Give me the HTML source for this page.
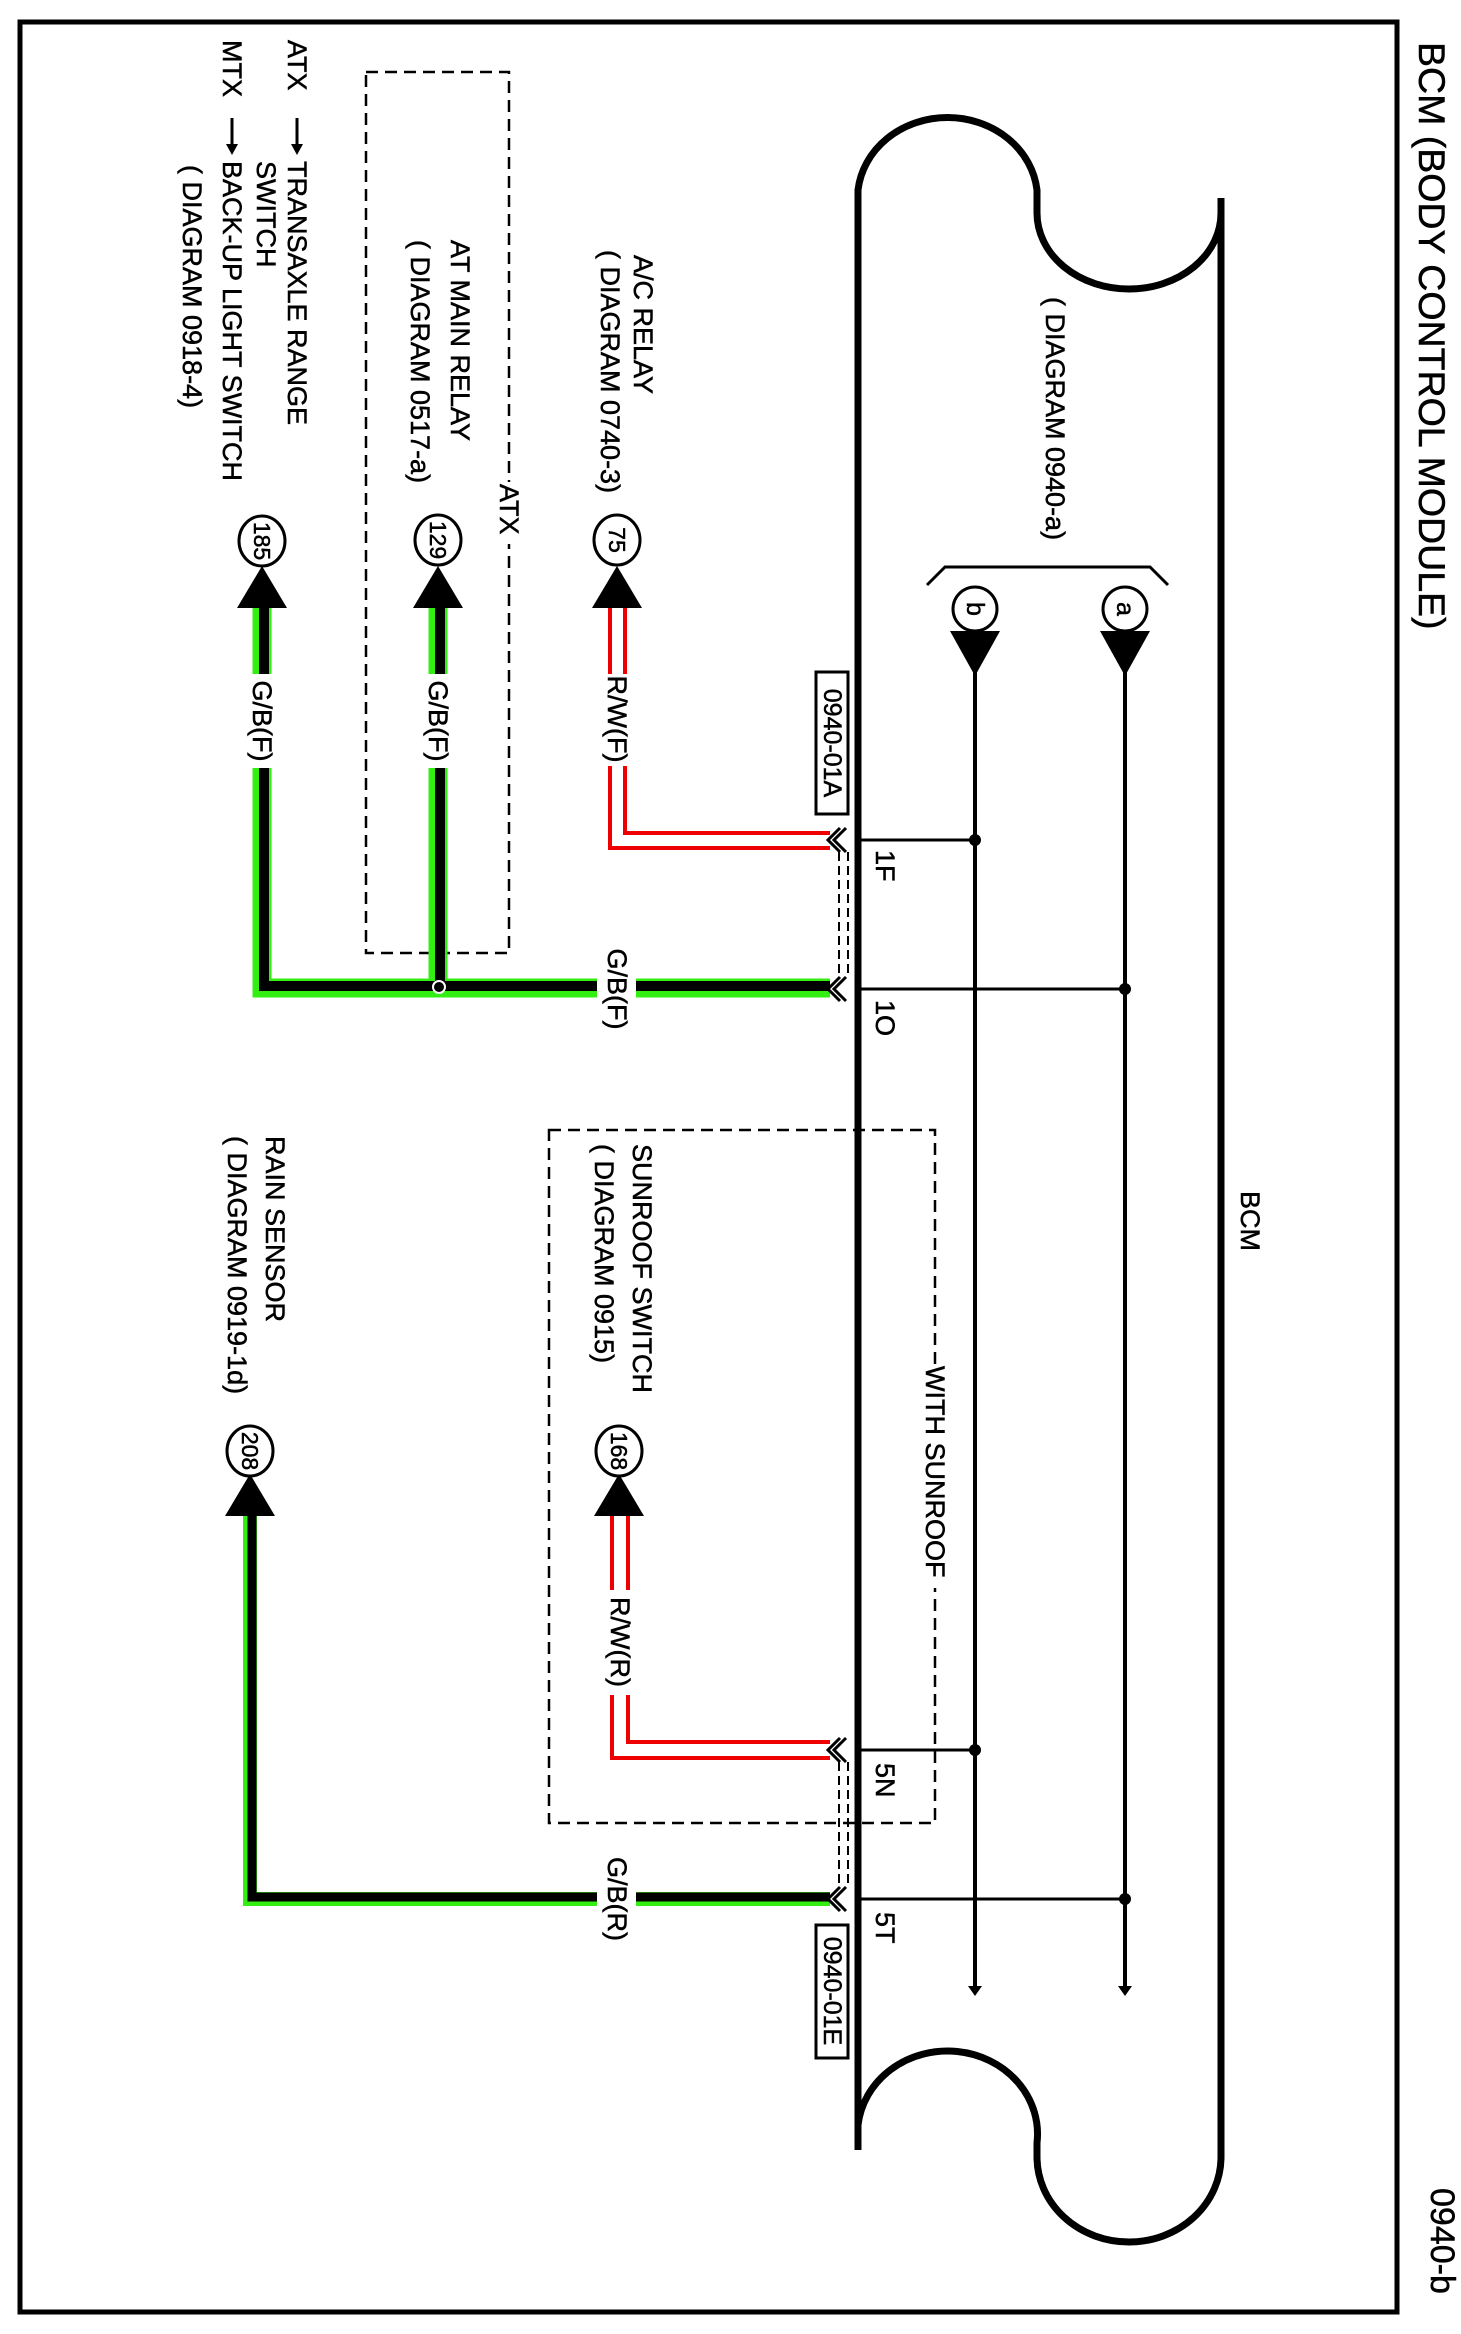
<!DOCTYPE html>
<html><head><meta charset="utf-8"><style>
html,body{margin:0;padding:0;background:#fff;}
svg{display:block;}
text{font-family:"Liberation Sans",Arial,sans-serif;fill:#000;stroke:#000;stroke-width:0.5;}
</style></head><body>
<svg width="1461" height="2334" viewBox="0 0 1461 2334" xmlns="http://www.w3.org/2000/svg">
<rect x="20" y="22" width="1377" height="2290" fill="none" stroke="#000" stroke-width="5"/>

<text x="1432" y="42" transform="rotate(90 1432 42)" font-size="37.5" dominant-baseline="central">BCM (BODY CONTROL MODULE)</text>
<text x="1442" y="2188" transform="rotate(90 1442 2188)" font-size="34" dominant-baseline="central">0940-b</text>

<path d="M858,2150 L858,190 A90,81 0 0 1 1037,190 L1037,213 A92,76 0 0 0 1221,213 L1221,198" fill="none" stroke="#000" stroke-width="7"/>
<path d="M1221,213 L1221,2157 A92,85 0 0 1 1037,2157 L1037,2143 A90,83 0 0 0 858,2125" fill="none" stroke="#000" stroke-width="7"/>
<text x="1250" y="1191" transform="rotate(90 1250 1191)" font-size="27" dominant-baseline="central">BCM</text>
<text x="1055" y="297" transform="rotate(90 1055 297)" font-size="27" dominant-baseline="central">( DIAGRAM  0940-a)</text>

<polyline points="927,585 945,567 1150,567 1168,585" fill="none" stroke="#000" stroke-width="3"/>
<circle cx="975" cy="609" r="22" fill="#fff" stroke="#000" stroke-width="3"/>
<text x="975" y="609" transform="rotate(90 975 609)" font-size="25" text-anchor="middle" dominant-baseline="central">b</text>
<circle cx="1125" cy="609" r="22" fill="#fff" stroke="#000" stroke-width="3"/>
<text x="1125" y="609" transform="rotate(90 1125 609)" font-size="25" text-anchor="middle" dominant-baseline="central">a</text>
<polygon points="950,631 1000,631 975,676" fill="#000"/>
<polygon points="1100,631 1150,631 1125,676" fill="#000"/>
<line x1="975" y1="670" x2="975" y2="1990" stroke="#000" stroke-width="4"/>
<line x1="1125" y1="670" x2="1125" y2="1990" stroke="#000" stroke-width="4"/>
<polygon points="968,1986 982,1986 975,1996" fill="#000"/>
<polygon points="1118,1986 1132,1986 1125,1996" fill="#000"/>

<g stroke="#000" stroke-width="3">
<line x1="858" y1="840" x2="975" y2="840"/>
<line x1="858" y1="989" x2="1125" y2="989"/>
<line x1="858" y1="1750" x2="975" y2="1750"/>
<line x1="858" y1="1899" x2="1125" y2="1899"/>
</g>
<g fill="#000">
<circle cx="975" cy="840" r="6"/><circle cx="1125" cy="989" r="6"/>
<circle cx="975" cy="1750" r="6"/><circle cx="1125" cy="1899" r="6"/>
</g>
<g font-size="27">
<text x="885" y="850" transform="rotate(90 885 850)" dominant-baseline="central">1F</text>
<text x="885" y="1000" transform="rotate(90 885 1000)" dominant-baseline="central">1O</text>
<text x="885" y="1763" transform="rotate(90 885 1763)" dominant-baseline="central">5N</text>
<text x="885" y="1912" transform="rotate(90 885 1912)" dominant-baseline="central">5T</text>
</g>

<rect x="816" y="672" width="32" height="142" fill="#fff" stroke="#000" stroke-width="3"/>
<text x="832" y="743" transform="rotate(90 832 743)" font-size="25" text-anchor="middle" dominant-baseline="central">0940-01A</text>
<rect x="816" y="1925" width="32" height="133" fill="#fff" stroke="#000" stroke-width="3"/>
<text x="832" y="1991" transform="rotate(90 832 1991)" font-size="25" text-anchor="middle" dominant-baseline="central">0940-01E</text>

<g stroke="#000" stroke-width="2" stroke-dasharray="9,5" fill="none">
<line x1="839" y1="852" x2="839" y2="978"/><line x1="848" y1="852" x2="848" y2="978"/>
<line x1="839" y1="1762" x2="839" y2="1888"/><line x1="848" y1="1762" x2="848" y2="1888"/>
</g>

<g stroke="#000" stroke-width="2.5" stroke-dasharray="12,7" fill="none">
<rect x="366" y="72" width="143" height="881"/>
<rect x="549" y="1130" width="386" height="693"/>
</g>
<rect x="500" y="482" width="20" height="62" fill="#fff"/>
<text x="509" y="484" transform="rotate(90 509 484)" font-size="27" dominant-baseline="central">ATX</text>
<rect x="925" y="1364" width="20" height="224" fill="#fff"/>
<text x="935" y="1366" transform="rotate(90 935 1366)" font-size="27" dominant-baseline="central">WITH SUNROOF</text>

<g font-size="27">
<text x="297" y="40" transform="rotate(90 297 40)" dominant-baseline="central">ATX</text>
<text x="232" y="40" transform="rotate(90 232 40)" dominant-baseline="central">MTX</text>
<text x="297" y="161" transform="rotate(90 297 161)" dominant-baseline="central">TRANSAXLE RANGE</text>
<text x="266" y="161" transform="rotate(90 266 161)" dominant-baseline="central">SWITCH</text>
<text x="232" y="161" transform="rotate(90 232 161)" dominant-baseline="central">BACK-UP LIGHT SWITCH</text>
<text x="192" y="165" transform="rotate(90 192 165)" dominant-baseline="central">( DIAGRAM 0918-4)</text>
<text x="460" y="240" transform="rotate(90 460 240)" dominant-baseline="central">AT MAIN RELAY</text>
<text x="420" y="240" transform="rotate(90 420 240)" dominant-baseline="central">( DIAGRAM  0517-a)</text>
<text x="643" y="255" transform="rotate(90 643 255)" dominant-baseline="central">A/C RELAY</text>
<text x="610" y="250" transform="rotate(90 610 250)" dominant-baseline="central">( DIAGRAM 0740-3)</text>
<text x="275" y="1136" transform="rotate(90 275 1136)" dominant-baseline="central">RAIN SENSOR</text>
<text x="237" y="1136" transform="rotate(90 237 1136)" dominant-baseline="central">( DIAGRAM 0919-1d)</text>
<text x="642" y="1144" transform="rotate(90 642 1144)" dominant-baseline="central">SUNROOF SWITCH</text>
<text x="604" y="1144" transform="rotate(90 604 1144)" dominant-baseline="central">( DIAGRAM  0915)</text>
</g>
<g stroke="#000" stroke-width="3">
<line x1="297" y1="118" x2="297" y2="146"/><line x1="232" y1="118" x2="232" y2="146"/>
</g>
<polygon points="291,144 303,144 297,155" fill="#000"/>
<polygon points="226,144 238,144 232,155" fill="#000"/>

<g fill="none" stroke-linejoin="miter" stroke-linecap="butt">
<path d="M262,607 V988 H830" stroke="#33ee11" stroke-width="19"/>
<path d="M438,607 V988" stroke="#33ee11" stroke-width="19"/>
<path d="M250,1514 V1899 H830" stroke="#33ee11" stroke-width="14"/>
<path d="M264,607 V986 H830" stroke="#000" stroke-width="10"/>
<path d="M440,607 V988" stroke="#000" stroke-width="10"/>
<path d="M252,1514 V1897 H830" stroke="#000" stroke-width="9"/>
</g>
<circle cx="439" cy="987" r="6" fill="#000" stroke="#fff" stroke-width="2"/>

<g fill="none" stroke="#ee0000" stroke-width="4">
<path d="M610,607 V848 H830"/><path d="M625,607 V833 H830"/>
<path d="M612,1514 V1758 H830"/><path d="M628,1514 V1742 H830"/>
</g>

<g fill="#fff">
<rect x="240" y="674" width="45" height="94"/>
<rect x="415" y="674" width="45" height="94"/>
<rect x="597" y="674" width="40" height="92"/>
<rect x="597" y="964" width="39" height="50"/>
<rect x="597" y="1590" width="40" height="105"/>
<rect x="597" y="1874" width="39" height="50"/>
</g>
<g font-size="27">
<text x="262" y="721" transform="rotate(90 262 721)" text-anchor="middle" dominant-baseline="central">G/B(F)</text>
<text x="438" y="721" transform="rotate(90 438 721)" text-anchor="middle" dominant-baseline="central">G/B(F)</text>
<text x="617" y="719" transform="rotate(90 617 719)" text-anchor="middle" dominant-baseline="central">R/W(F)</text>
<text x="617" y="989" transform="rotate(90 617 989)" text-anchor="middle" dominant-baseline="central">G/B(F)</text>
<text x="620" y="1642" transform="rotate(90 620 1642)" text-anchor="middle" dominant-baseline="central">R/W(R)</text>
<text x="617" y="1899" transform="rotate(90 617 1899)" text-anchor="middle" dominant-baseline="central">G/B(R)</text>
</g>

<g fill="none" stroke="#000" stroke-width="3">
<polyline points="846,828 834,840 846,852"/><polyline points="840,828 828,840 840,852"/>
<polyline points="846,977 834,989 846,1001"/><polyline points="840,977 828,989 840,1001"/>
<polyline points="846,1738 834,1750 846,1762"/><polyline points="840,1738 828,1750 840,1762"/>
<polyline points="846,1887 834,1899 846,1911"/><polyline points="840,1887 828,1899 840,1911"/>
</g>

<g fill="#000">
<polygon points="237,608 287,608 262,566"/>
<polygon points="413,608 463,608 438,566"/>
<polygon points="592,608 642,608 617,566"/>
<polygon points="225,1516 275,1516 250,1474"/>
<polygon points="594,1516 644,1516 619,1474"/>
</g>
<g fill="#fff" stroke="#000" stroke-width="3">
<ellipse cx="262" cy="541" rx="23" ry="25"/>
<ellipse cx="438" cy="540" rx="23" ry="25"/>
<ellipse cx="617" cy="540" rx="23" ry="25"/>
<ellipse cx="250" cy="1451" rx="23" ry="25"/>
<ellipse cx="619" cy="1451" rx="23" ry="25"/>
</g>
<g font-size="23">
<text x="262" y="541" transform="rotate(90 262 541)" text-anchor="middle" dominant-baseline="central">185</text>
<text x="438" y="540" transform="rotate(90 438 540)" text-anchor="middle" dominant-baseline="central">129</text>
<text x="617" y="540" transform="rotate(90 617 540)" text-anchor="middle" dominant-baseline="central">75</text>
<text x="250" y="1451" transform="rotate(90 250 1451)" text-anchor="middle" dominant-baseline="central">208</text>
<text x="619" y="1451" transform="rotate(90 619 1451)" text-anchor="middle" dominant-baseline="central">168</text>
</g>
</svg>
</body></html>
